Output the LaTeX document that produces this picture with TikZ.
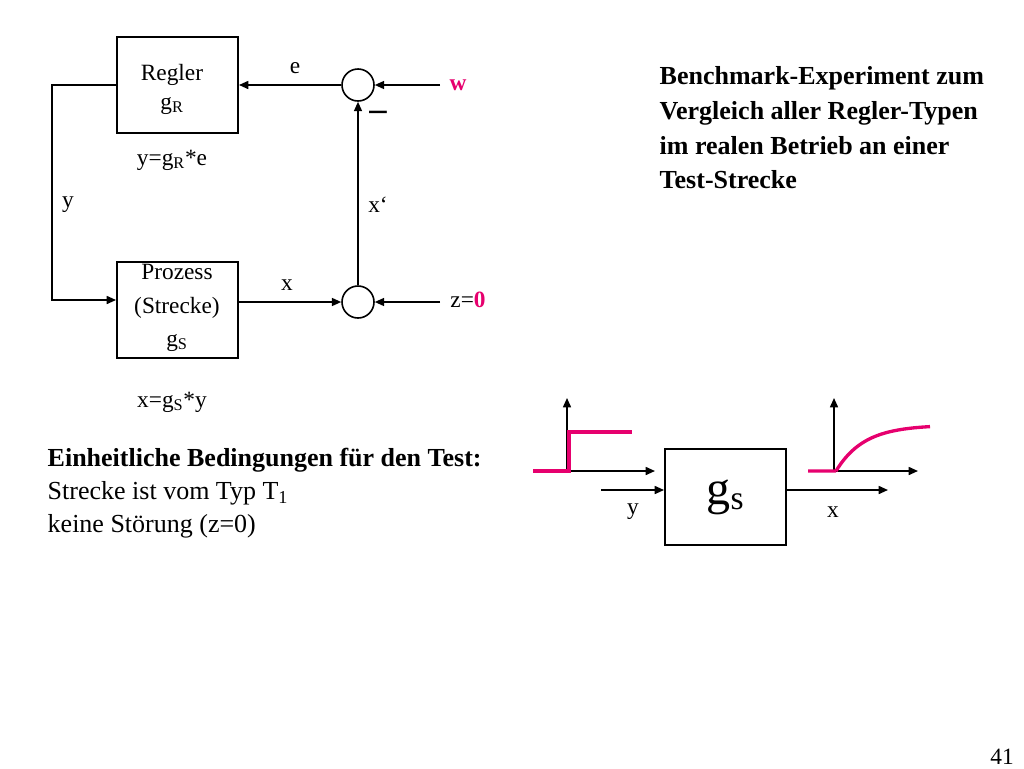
\documentclass[tikz,border=0pt]{standalone}
\usepackage{fontspec}
\setmainfont{Liberation Serif}
\usetikzlibrary{arrows.meta}
\definecolor{rd}{RGB}{230,0,110}
\begin{document}
\begin{tikzpicture}[x=0.75pt,y=-0.75pt,
  box/.style={draw,line width=1.2pt,minimum width=91pt,minimum height=72pt,inner sep=0pt,align=center},
  sum/.style={draw,line width=1.2pt,circle,minimum size=24pt,inner sep=0pt},
  arr/.style={line width=1.2pt,-{Triangle[length=7pt,width=6pt]}},
  lab/.style={font=\fontsize{17.5}{24}\selectfont},
  big/.style={align=left,anchor=west}]
\useasboundingbox (0,0) rectangle (1024,768);
\node[box] (reg) at (177.5,85) {};
\node[lab] (regt) at (172,75) {Regler};
\node[lab] (regg) at (172,106) {g\textsubscript{R}};
\node[box] (pro) at (177.5,310) {};
\node[lab,align=center,font=\fontsize{17.5}{25}\selectfont] (prot) at (177,308) {Prozess\\(Strecke)\\g\textsubscript{S}};
\node[sum] (s1) at (358,85) {};
\node[sum] (s2) at (358,302) {};
\coordinate (w) at (440,85);
\coordinate (z) at (440,302);
\draw[arr] (w) -- (s1);
\draw[arr] (s1) -- (reg.east |- s1);
\draw[arr] (z) -- (s2);
\draw[arr] (pro.east |- s2) -- (s2);
\draw[arr] (s2) -- (s1);
\draw[arr] (reg.west |- s1) -- (52,85) -- (52,300) -- (pro.west |- 0,300);
\node[lab] (lw) at (458,85) {\color{rd}\bfseries w};
\node[lab] (le) at (295,68) {e};
\node[font=\fontsize{26}{26}\selectfont\bfseries] (lm) at (378,116) {--};
\node[lab] (lx1) at (378,205) {x‘};
\node[lab] (ly) at (68,205) {y};
\node[lab] (lx) at (287,285) {x};
\node[lab] (lz) at (468,300) {z=\textcolor{rd}{\bfseries 0}};
\node[lab] (eq1) at (172,160) {y=g\textsubscript{R}*e};
\node[lab] (eq2) at (172,402) {x=g\textsubscript{S}*y};
\node[big,font=\fontsize{19.5}{26}\selectfont\bfseries] (bm) at (655,128) {Benchmark-Experiment zum\\Vergleich aller Regler-Typen\\im realen Betrieb an einer\\Test-Strecke};
\node[big,font=\fontsize{19.5}{25}\selectfont] (cond) at (43,493) {\textbf{Einheitliche Bedingungen für den Test:}\\Strecke ist vom Typ T\textsubscript{1}\\keine Störung (z=0)};
\node[box] (gs) at (725.5,497) {\fontsize{36}{36}\selectfont g\textsubscript{s}};
\coordinate (yin) at (601,490);
\coordinate (xout) at (888,490);
\draw[arr] (yin) -- (gs.west |- yin);
\draw[arr] (gs.east |- xout) -- (xout);
\node[lab] (ly2) at (633,512) {y};
\node[lab] (lx2) at (833,512) {x};
\draw[arr] (567,471) -- (567,398);
\draw[arr] (567,471) -- (655,471);
\draw[rd,line width=2.5pt] (533,471) -- (569,471) -- (569,432) -- (632,432);
\draw[arr] (834,471) -- (834,398);
\draw[arr] (834,471) -- (918,471);
\draw[rd,line width=2.5pt] (808,471) -- (836,471)
  plot[domain=0:94,samples=40] ({836+\x},{471-46*(1-exp(-\x/28))});
\node[lab] (pg) at (1002,757) {41};
\end{tikzpicture}
\end{document}
